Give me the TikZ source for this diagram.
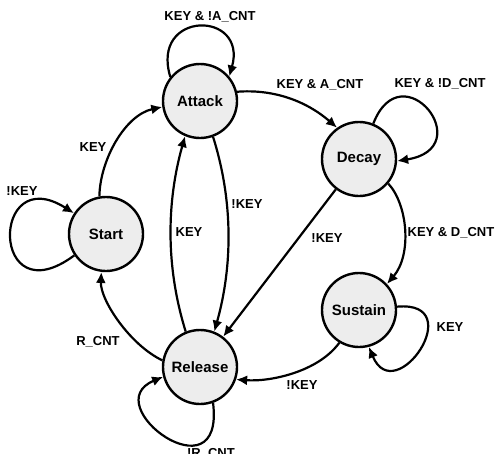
\documentclass[tikz,border=0pt]{standalone}
\usepackage{fontspec}
\setmainfont{Liberation Sans}
\usetikzlibrary{arrows.meta}
\begin{document}
\begin{tikzpicture}[x=1pt,y=-1pt,
  state/.style={circle,draw=black,line width=2.4pt,fill=black!7,minimum size=74pt,inner sep=0pt,font=\fontsize{15}{15}\selectfont\bfseries},
  lbl/.style={inner sep=0pt,font=\fontsize{13}{13}\selectfont\bfseries},
  edge/.style={line width=2.2pt,-{Latex[length=11pt,width=10pt]}}]
\useasboundingbox (0,0) rectangle (495,453);
\node[state] (A) at (200,101) {Attack};
\node[state] (D) at (359,159) {Decay};
\node[state] (S) at (106,234) {Start};
\node[state] (R) at (200,367) {Release};
\node[state] (U) at (359,310) {Sustain};
% labels
\node[lbl] (l1) at (210,17) {KEY \& !A\_CNT};
\node[lbl] (l2) at (320,85) {KEY \& A\_CNT};
\node[lbl] (l3) at (440,84) {KEY \& !D\_CNT};
\node[lbl] (l4) at (451,233) {KEY \& D\_CNT};
\node[lbl] (l5) at (327,238) {!KEY};
\node[lbl] (l6) at (450,327) {KEY};
\node[lbl] (l7) at (302,385) {!KEY};
\node[lbl] (l8) at (211,454) {!R\_CNT};
\node[lbl] (l9) at (98,342) {R\_CNT};
\node[lbl] (l10) at (22,191) {!KEY};
\node[lbl] (l11) at (93,147) {KEY};
\node[lbl] (l12) at (247,204) {!KEY};
\node[lbl] (l13) at (189,232) {KEY};
% edges
\draw[edge] (A.141) .. controls (150,10) and (248,10) .. (A.40);
\draw[edge] (A.14) .. controls (272,89) and (305,100) .. (D.125);
\draw[edge] (D.68) .. controls (402,50) and (480,148) .. (D.-3);
\draw[edge] (D.-40) .. controls (408,205) and (412,255) .. (U.43);
\draw[edge] (D) -- (R);
\draw[edge] (U.5) .. controls (470,300) and (395,410) .. (U.-75);
\draw[edge] (U.239) .. controls (318,372) and (270,382) .. (R.-19);
\draw[edge] (R.-70) .. controls (225,500) and (95,405) .. (R.195);
\draw[edge] (R.170) .. controls (130,345) and (100,300) .. (S.263);
\draw[edge] (S.214) .. controls (-10,318) and (-10,160) .. (S.147);
\draw[edge] (S.100) .. controls (100,160) and (125,115) .. (A.189);
\draw[edge] (A.-70) .. controls (233,200) and (233,265) .. (R.68);
\draw[edge] (R.112) .. controls (165,265) and (167,200) .. (A.247);
\end{tikzpicture}
\end{document}
